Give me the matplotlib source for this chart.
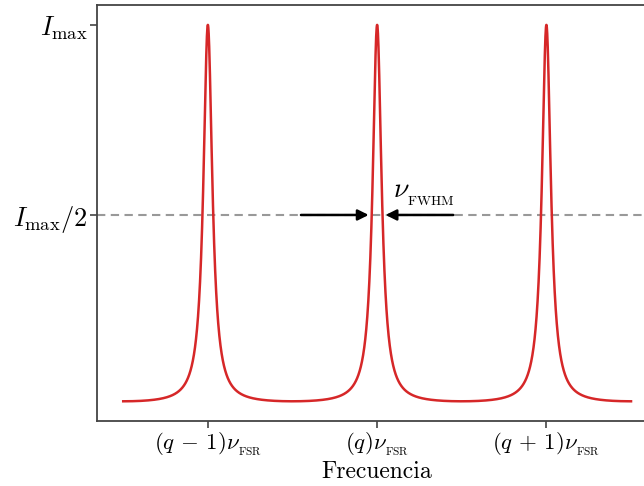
import numpy as np
import matplotlib
matplotlib.use('Agg')
import matplotlib.pyplot as plt

plt.rcParams['font.family'] = 'serif'
plt.rcParams['font.serif'] = ['cmr10']
plt.rcParams['mathtext.fontset'] = 'cm'
plt.rcParams['axes.unicode_minus'] = False

# picos de transmision (en unidades de nu_FSR, relativos al orden q)
ordenes = [-1, 0, 1]
etiquetas_x = [r'$(q\,-\,1)\nu_{_{\rm FSR}}$', r'$(q)\nu_{_{\rm FSR}}$', r'$(q\,+\,1)\nu_{_{\rm FSR}}$']
I_max = 1.0
F_coef = 100.0          # coeficiente de finura
rango = (-1.5, 1.5)     # frecuencias dibujadas
flecha_ini = 0.45       # extremo exterior de las flechas
flecha_fin = 0.05       # punta de las flechas

nu = np.linspace(rango[0], rango[1], 4000)
I = I_max / (1 + F_coef * np.sin(np.pi * nu) ** 2)

fig = plt.figure(figsize=(6.44, 4.86), dpi=100)
ax = fig.add_axes([0.1506, 0.1337, 0.870, 0.855])

ax.axhline(I_max / 2, color='#999999', lw=1.5, ls=(0, (4, 2.6)), zorder=1)
ax.plot(nu, I, color='#d62728', lw=1.8, zorder=3)

# flechas del ancho a media altura
for s in (-1, 1):
    ax.annotate('', xy=(s * flecha_fin, I_max / 2), xytext=(s * flecha_ini, I_max / 2),
                arrowprops=dict(arrowstyle='-|>', color='black', lw=1.8,
                                mutation_scale=16, shrinkA=0, shrinkB=0),
                zorder=4)
ax.text(0.095, 0.52, r'$\nu_{_{\rm FWHM}}$', fontsize=20, ha='left', va='bottom')

ax.set_xlim(-1.655, 1.655)
ax.set_ylim(-0.042, 1.051)
ax.set_xticks(ordenes)
ax.set_xticklabels(etiquetas_x, fontsize=16.5)
ax.set_yticks([I_max / 2, I_max])
ax.set_yticklabels([r'$I_{\rm max}/2$', r'$I_{\rm max}$'], fontsize=19)
ax.set_xlabel('Frecuencia', fontsize=17, labelpad=2)

for sp in ax.spines.values():
    sp.set_color('#444444')
    sp.set_linewidth(1.3)
ax.tick_params(color='#444444', width=1.2, length=5)
ax.tick_params(axis='x', pad=2)
ax.tick_params(axis='y', pad=2)

fig.savefig('out.png', dpi=100)
